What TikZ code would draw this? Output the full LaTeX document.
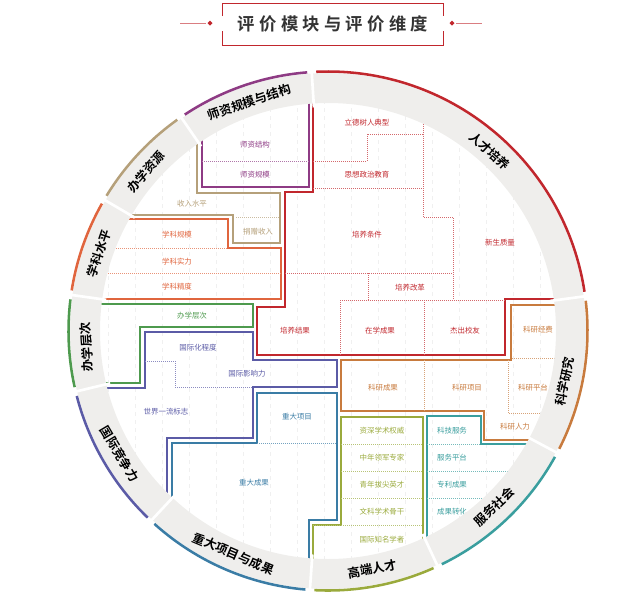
\documentclass[tikz,border=0pt]{standalone}
\usepackage{fontspec}
\setmainfont{Noto Sans CJK SC}
\newfontfamily\titlefont[LetterSpace=25]{Noto Sans CJK SC Bold}
\newfontfamily\boldcjk{Noto Sans CJK SC Bold}
\definecolor{cpur}{HTML}{8E3B84}
\definecolor{cred}{HTML}{C1272D}
\definecolor{cbro}{HTML}{C87B3E}
\definecolor{ctea}{HTML}{3A9E9E}
\definecolor{coli}{HTML}{9AAA3C}
\definecolor{cblu}{HTML}{3A7CA5}
\definecolor{cind}{HTML}{5B5BA6}
\definecolor{cgre}{HTML}{4E9A4E}
\definecolor{cora}{HTML}{E0653E}
\definecolor{ctan}{HTML}{B5A07A}
\definecolor{cring}{HTML}{EFEEEC}
\begin{document}
\begin{tikzpicture}[x=0.75pt,y=-0.75pt,
  reg/.style={line width=1.7pt,line join=miter},
  dv/.style={densely dotted,line width=0.5pt},
  lab/.style={font=\fontsize{5.6}{6}\selectfont,inner sep=1pt},
  rlab/.style={font=\boldcjk\fontsize{9.3}{10}\selectfont,inner sep=0pt}]
\useasboundingbox (0,0) rectangle (640,597);
% title
\draw[cred,line width=0.6pt] (222,16) -- (222,3) -- (443,3) -- (443,16);
\draw[cred,line width=0.6pt] (222,31) -- (222,45) -- (443,45) -- (443,31);
\draw[cred!60,line width=0.5pt] (180,23) -- (206,23);
\draw[cred!60,line width=0.5pt] (456,23) -- (482,23);
\fill[cred] (210,20.5) -- (212.5,23) -- (210,25.5) -- (207.5,23) -- cycle;
\fill[cred] (452,20.5) -- (454.5,23) -- (452,25.5) -- (449.5,23) -- cycle;
\node[font=\titlefont\fontsize{13}{14}\selectfont,text=black!80] (title) at (333,24) {评价模块与评价维度};
% inner content clipped to circle
\begin{scope}
\clip (328,331) circle (229);
\draw[black!6,dashed,line width=0.4pt,step=27] (60,60) grid (600,600);
% purple
\draw[reg,cpur] (202,90) -- (202,187) -- (309,187) -- (309,90);
\draw[dv,cpur!70] (202,161) -- (309,161);
\node[lab,text=cpur] (p1) at (255,145) {师资结构};
\node[lab,text=cpur] (p2) at (255,175) {师资规模};
% tan
\draw[reg,ctan] (197,130) -- (197,193) -- (280,193) -- (280,243) -- (233,243) -- (233,215) -- (90,215);
\draw[dv,ctan!70] (236,217) -- (280,217);
\node[lab,text=ctan] (t1) at (192,204) {收入水平};
\node[lab,text=ctan] (t2) at (258,232) {捐赠收入};
% orange
\draw[reg,cora] (90,219) -- (228,219) -- (228,248) -- (281,248) -- (281,299) -- (90,299);
\draw[dv,cora!70] (100,248) -- (228,248);
\draw[dv,cora!70] (100,273) -- (281,273);
\node[lab,text=cora] (o1) at (177,235) {学科规模};
\node[lab,text=cora] (o2) at (177,262) {学科实力};
\node[lab,text=cora] (o3) at (177,287) {学科精度};
% red
\draw[reg,cred] (313,90) -- (313,192) -- (285,192) -- (285,307) -- (257,307) -- (257,355) -- (505,355) -- (505,299) -- (570,299);
\draw[dv,cred!70] (313,161) -- (367,161) -- (367,134) -- (423,134);
\draw[dv,cred!70] (423,100) -- (423,217) -- (453,217) -- (453,300);
\draw[dv,cred!70] (313,188) -- (423,188);
\draw[dv,cred!70] (285,273) -- (453,273);
\draw[dv,cred!70] (368,273) -- (368,300);
\draw[dv,cred!70] (340,300) -- (505,300);
\draw[dv,cred!70] (340,300) -- (340,355);
\draw[dv,cred!70] (424,300) -- (424,355);
\node[lab,text=cred] (r1) at (367,123) {立德树人典型};
\node[lab,text=cred] (r2) at (367,175) {思想政治教育};
\node[lab,text=cred] (r3) at (367,235) {培养条件};
\node[lab,text=cred] (r4) at (500,243) {新生质量};
\node[lab,text=cred] (r5) at (410,288) {培养改革};
\node[lab,text=cred] (r6) at (295,331) {培养结果};
\node[lab,text=cred] (r7) at (380,331) {在学成果};
\node[lab,text=cred] (r8) at (465,331) {杰出校友};
% brown
\draw[reg,cbro] (570,305) -- (511,305) -- (511,360) -- (341,360) -- (341,411) -- (484,411) -- (484,440) -- (570,440);
\draw[dv,cbro!70] (512,358) -- (580,358);
\draw[dv,cbro!70] (424,360) -- (424,411);
\draw[dv,cbro!70] (508,360) -- (508,413) -- (580,413);
\node[lab,text=cbro] (b1) at (538,330) {科研经费};
\node[lab,text=cbro] (b2) at (383,388) {科研成果};
\node[lab,text=cbro] (b3) at (467,388) {科研项目};
\node[lab,text=cbro] (b4) at (533,388) {科研平台};
\node[lab,text=cbro] (b5) at (515,427) {科研人力};
% olive
\draw[reg,coli] (313,600) -- (313,525) -- (341,525) -- (341,417) -- (423,417) -- (423,600);
\draw[dv,coli!70] (341,444) -- (423,444);
\draw[dv,coli!70] (341,471) -- (423,471);
\draw[dv,coli!70] (341,498) -- (423,498);
\draw[dv,coli!70] (313,525) -- (423,525);
\node[lab,text=coli] (g1) at (382,431) {资深学术权威};
\node[lab,text=coli] (g2) at (382,458) {中年领军专家};
\node[lab,text=coli] (g3) at (382,485) {青年拔尖英才};
\node[lab,text=coli] (g4) at (382,512) {文科学术骨干};
\node[lab,text=coli] (g5) at (382,540) {国际知名学者};
% teal
\draw[reg,ctea] (427,600) -- (427,416) -- (481,416) -- (481,444) -- (560,444);
\draw[dv,ctea!70] (427,444) -- (481,444);
\draw[dv,ctea!70] (427,471) -- (520,471);
\draw[dv,ctea!70] (427,498) -- (500,498);
\node[lab,text=ctea] (s1) at (452,431) {科技服务};
\node[lab,text=ctea] (s2) at (452,458) {服务平台};
\node[lab,text=ctea] (s3) at (452,485) {专利成果};
\node[lab,text=ctea] (s4) at (452,512) {成果转化};
% blue
\draw[reg,cblu] (309,600) -- (309,520) -- (337,520) -- (337,393) -- (257,393) -- (257,443) -- (172,443) -- (172,560);
\draw[dv,cblu!70] (257,443) -- (337,443);
\node[lab,text=cblu] (u1) at (297,417) {重大项目};
\node[lab,text=cblu] (u2) at (254,483) {重大成果};
% indigo
\draw[reg,cind] (80,388) -- (145,388) -- (145,332) -- (253,332) -- (253,360) -- (337,360) -- (337,387) -- (253,387) -- (253,438) -- (167,438) -- (167,560);
\draw[dv,cind!70] (145,361) -- (175,361) -- (175,387) -- (253,387);
\node[lab,text=cind] (i1) at (198,348) {国际化程度};
\node[lab,text=cind] (i2) at (247,374) {国际影响力};
\node[lab,text=cind] (i3) at (166,412) {世界一流标志};
% green
\draw[reg,cgre] (80,304) -- (253,304) -- (253,327) -- (140,327) -- (140,383) -- (80,383);
\node[lab,text=cgre] (e1) at (192,316) {办学层次};
\end{scope}
% ring
\begin{scope}[shift={(328,331)},x=0.75pt,y=0.75pt]
\fill[cring,even odd rule] (0,0) circle (258) (0,0) circle (228);
\foreach \a in {93.6,7.7,-28,-65,-94,-133,-166.5,172,149.6,124.5}
  \draw[white,line width=2pt] (\a:224) -- (\a:266);
\tikzset{arcc/.style={line width=1.9pt}}
\draw[arcc,cpur] (94.6:259.5) arc (94.6:123.5:259.5);
\draw[arcc,cred] (8.7:259.5) arc (8.7:92.6:259.5);
\draw[arcc,cbro] (-27:259.5) arc (-27:6.7:259.5);
\draw[arcc,ctea] (-64:259.5) arc (-64:-29:259.5);
\draw[arcc,coli] (-93:259.5) arc (-93:-66:259.5);
\draw[arcc,cblu] (-132:259.5) arc (-132:-95:259.5);
\draw[arcc,cind] (-165.5:259.5) arc (-165.5:-134:259.5);
\draw[arcc,cgre] (173:259.5) arc (173:192.5:259.5);
\draw[arcc,cora] (150.6:259.5) arc (150.6:171:259.5);
\draw[arcc,ctan] (125.5:259.5) arc (125.5:148.6:259.5);
\node[rlab,rotate=19] (L1) at (109:242) {师资规模与结构};
\node[rlab,rotate=-42] (L2) at (48:242) {人才培养};
\node[rlab,rotate=78] (L3) at (-12:242) {科学研究};
\node[rlab,rotate=43.4] (L4) at (-46.6:242) {服务社会};
\node[rlab,rotate=10.5] (L5) at (-79.5:242) {高端人才};
\node[rlab,rotate=-23] (L6) at (-113:242) {重大项目与成果};
\node[rlab,rotate=-59.4] (L7) at (-149.4:242) {国际竞争力};
\node[rlab,rotate=93.8] (L8) at (183.8:242) {办学层次};
\node[rlab,rotate=71.3] (L9) at (161.3:242) {学科水平};
\node[rlab,rotate=48.8] (L10) at (138.8:242) {办学资源};
\end{scope}
\end{tikzpicture}
\end{document}
